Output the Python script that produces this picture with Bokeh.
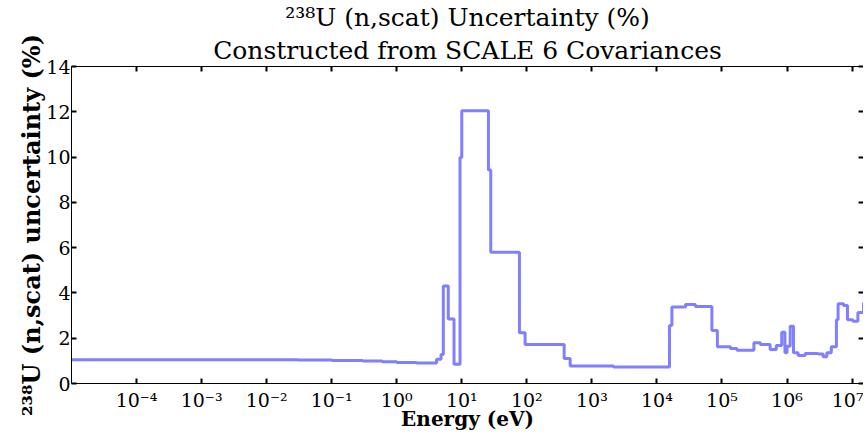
from bokeh.plotting import figure
from bokeh.models import (Range1d, FixedTicker, LogAxis, LinearAxis, Title,
                          ColumnDataSource, CustomJSTickFormatter)
from bokeh.embed import file_html
from bokeh.resources import INLINE

# ---- data ----
energy_ev = [1e-5, 1e-3, 0.03, 0.1, 0.3, 0.6, 1.0, 2.0, 4.1, 4.8, 5.2, 6.2, 7.6,
             9.4, 10.0, 25.7, 27.9, 77, 94, 375, 464, 2150, 15600, 17000,
             27500, 39000, 70000, 85000, 135000, 170000, 310000, 390000,
             550000, 684000, 830000, 930000, 1.0e6, 1.12e6, 1.26e6, 1.48e6,
             1.9e6, 3.0e6, 3.6e6, 4.1e6, 4.8e6, 5.75e6, 6.1e6, 7.4e6, 8.5e6,
             1.03e7, 1.23e7, 1.5e7, 1.55e7]
uncert_pct = [1.05, 1.05, 1.04, 1.02, 0.99, 0.96, 0.93, 0.90, 1.07, 1.28, 4.31,
              2.85, 0.85, 9.98, 12.05, 9.43, 5.80, 2.24, 1.72, 1.10, 0.77,
              0.73, 2.56, 3.38, 3.49, 3.40, 2.34, 1.62, 1.55, 1.47, 1.80,
              1.72, 1.50, 1.68, 2.26, 1.36, 1.65, 2.53, 1.36, 1.24, 1.33,
              1.30, 1.18, 1.36, 1.62, 2.82, 3.52, 3.45, 2.82, 2.75, 3.14,
              3.55, 4.30]
energy_max = 2e7

x_tick_exponents = [-4, -3, -2, -1, 0, 1, 2, 3, 4, 5, 6, 7]
y_ticks = [0, 2, 4, 6, 8, 10, 12, 14]

title_line1 = "\u00b2\u00b3\u2078U (n,scat) Uncertainty (%)"
title_line2 = "Constructed from SCALE 6 Covariances"
x_label = "Energy (eV)"
y_label = "\u00b2\u00b3\u2078U (n,scat) uncertainty (%)"

FONT = "DejaVu Serif"

src = ColumnDataSource(dict(x=energy_ev + [energy_max],
                            y=uncert_pct + [uncert_pct[-1]]))

p = figure(width=863, height=433, x_axis_type="log",
           x_range=Range1d(1e-5, 1.5e7), y_range=Range1d(0, 14),
           output_backend="svg", toolbar_location=None,
           min_border_left=71, min_border_top=66, min_border_bottom=49,
           min_border_right=0)
p.outline_line_color = None
p.xgrid.grid_line_color = None
p.ygrid.grid_line_color = None
p.background_fill_color = "white"
p.border_fill_color = "white"

p.step(x="x", y="y", source=src, mode="after", line_color="#7f7fff",
       line_width=3)

x_ticks = [10.0 ** e for e in x_tick_exponents]
blank = CustomJSTickFormatter(code="return ''")
pow10 = CustomJSTickFormatter(code="""
const sup = {'0':'\u2070','1':'\u00b9','2':'\u00b2','3':'\u00b3','4':'\u2074',
             '5':'\u2075','6':'\u2076','7':'\u2077','8':'\u2078','9':'\u2079',
             '-':'\u207b'};
const e = Math.round(Math.log10(tick));
return '10' + String(e).split('').map(c => sup[c]).join('');
""")


def style_axis(ax, ticks):
    ax.ticker = FixedTicker(ticks=ticks, minor_ticks=[])
    ax.axis_line_color = "black"
    ax.axis_line_width = 1
    ax.major_tick_in = 5
    ax.major_tick_out = 0
    ax.major_tick_line_width = 2
    ax.major_tick_line_color = "black"
    ax.minor_tick_line_color = None


# bottom x axis
xa = p.xaxis[0]
style_axis(xa, x_ticks)
xa.formatter = pow10
xa.major_label_text_font = FONT
xa.major_label_text_font_size = "19px"
xa.major_label_text_color = "black"
xa.major_label_standoff = 5
xa.axis_label = x_label
xa.axis_label_text_font = FONT
xa.axis_label_text_font_style = "bold"
xa.axis_label_text_font_size = "20px"
xa.axis_label_text_color = "black"
xa.axis_label_standoff = -7

# left y axis
ya = p.yaxis[0]
style_axis(ya, y_ticks)
ya.major_label_text_font = FONT
ya.major_label_text_font_size = "19px"
ya.major_label_text_color = "black"
ya.major_label_standoff = 1
ya.axis_label = y_label
ya.axis_label_text_font = FONT
ya.axis_label_text_font_style = "bold"
ya.axis_label_text_font_size = "24px"
ya.axis_label_text_color = "black"
ya.axis_label_standoff = -3

# mirrored top and right axes (ticks only)
top = LogAxis()
style_axis(top, x_ticks)
top.formatter = blank
top.major_label_standoff = 0
top.major_label_text_font_size = "1px"
p.add_layout(top, "above")

right = LinearAxis()
style_axis(right, y_ticks)
right.formatter = blank
right.major_label_standoff = 0
right.major_label_text_font_size = "1px"
p.add_layout(right, "right")

# two-line title (second line added first: it sits nearest the plot)
t2 = Title(text=title_line2, align="center", text_font=FONT,
           text_font_size="25px", text_font_style="normal",
           text_color="black", standoff=4)
t1 = Title(text=title_line1, align="center", text_font=FONT,
           text_font_size="25px", text_font_style="normal",
           text_color="black", standoff=0)
p.add_layout(t2, "above")
p.add_layout(t1, "above")

open("out.html", "w").write(file_html(p, INLINE))
